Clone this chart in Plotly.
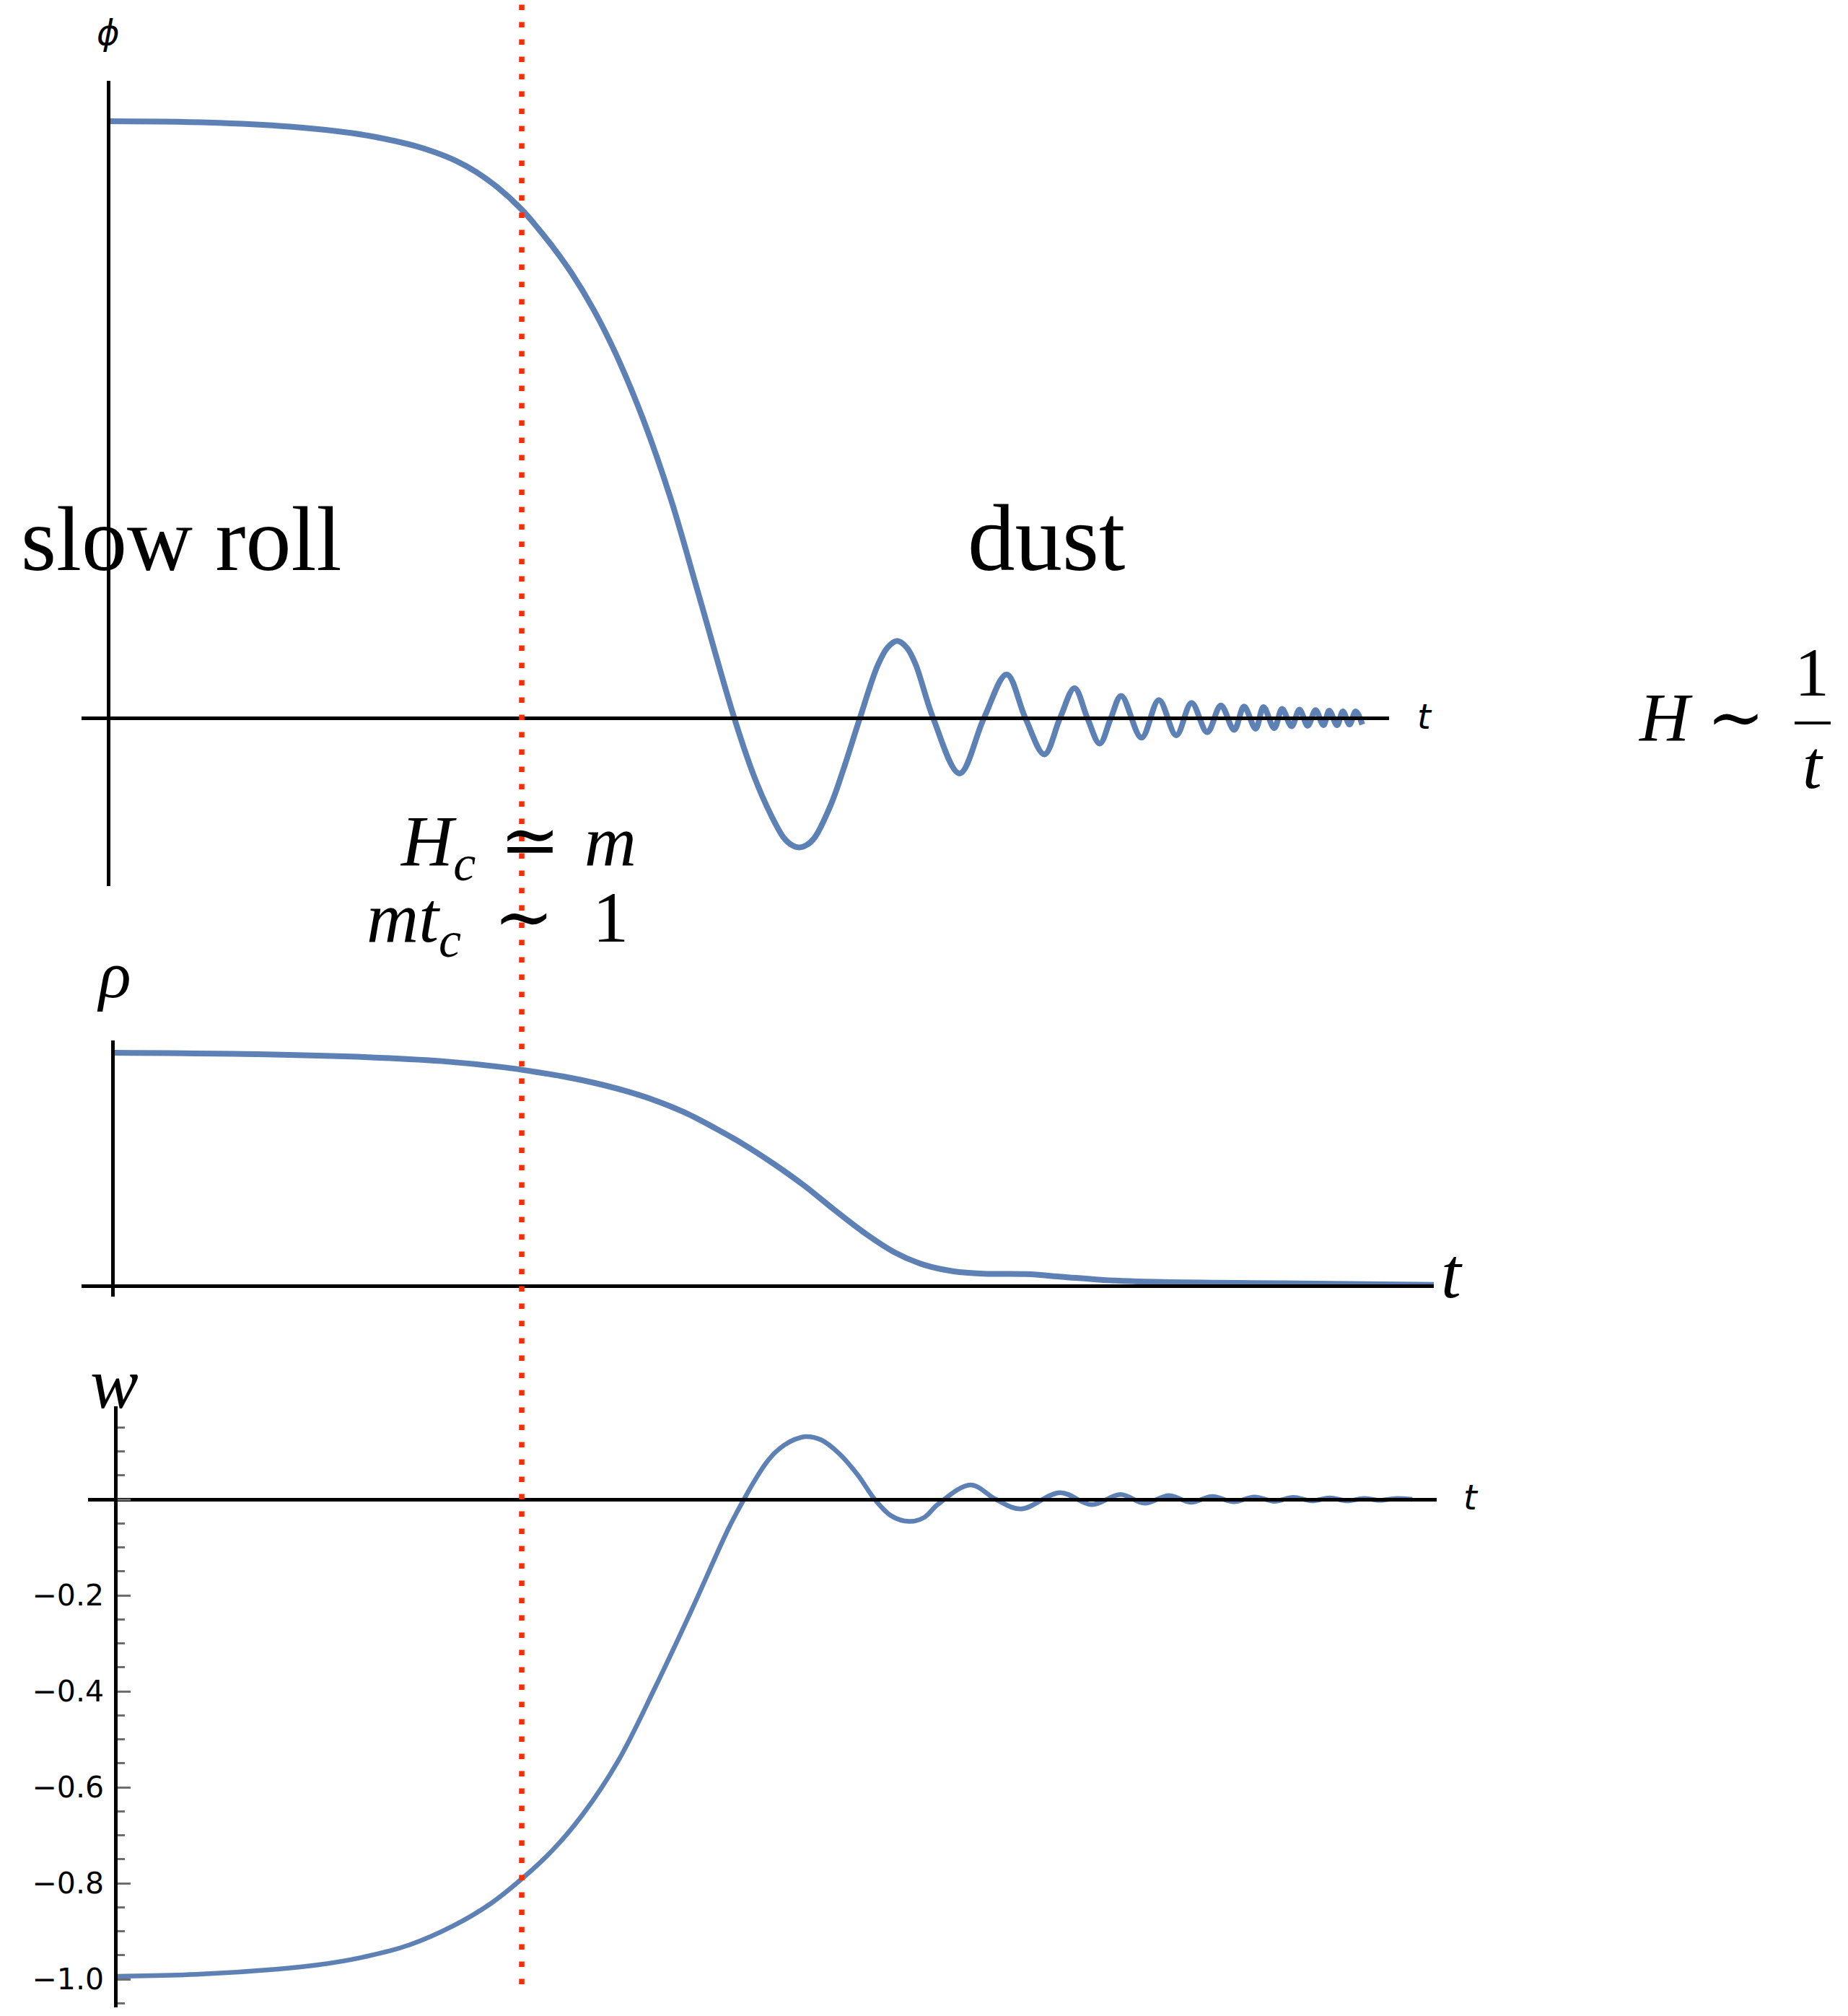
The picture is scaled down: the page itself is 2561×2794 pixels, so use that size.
import plotly.graph_objects as go

# ---------------------------------------------------------------------------
# Data: field, energy density and equation of state versus time (t_c = 1)
# ---------------------------------------------------------------------------
phi_t = [0.000, 0.239, 0.440, 0.590, 0.665, 0.740, 0.790, 0.840, 0.890, 0.940,
         1.000, 1.040, 1.080, 1.120, 1.174, 1.227, 1.294, 1.361, 1.427, 1.514,
         1.561, 1.601, 1.634, 1.653, 1.671, 1.689, 1.708, 1.748, 1.781, 1.818,
         1.861, 1.885, 1.908, 1.931, 1.952, 1.995, 2.059, 2.118, 2.173, 2.218,
         2.264, 2.302, 2.337, 2.368, 2.398, 2.425, 2.450, 2.499, 2.541, 2.583,
         2.620, 2.658, 2.691, 2.723, 2.747, 2.775, 2.794, 2.820, 2.839, 2.862,
         2.881, 2.901, 2.920, 2.939, 2.953, 2.972, 2.986, 3.002, 3.017, 3.033]
phi_v = [1.000, 0.998, 0.991, 0.980, 0.971, 0.959, 0.948, 0.934, 0.915, 0.890,
         0.852, 0.820, 0.785, 0.746, 0.684, 0.611, 0.500, 0.366, 0.209, 0.000,
         -0.096, -0.160, -0.201, -0.213, -0.217, -0.213, -0.201, -0.145, -0.080, 0.000,
         0.088, 0.118, 0.129, 0.118, 0.091, 0.000, -0.093, 0.000, 0.073, 0.000,
         -0.061, 0.000, 0.050, 0.000, -0.043, 0.000, 0.037, -0.033, 0.030, -0.029,
         0.025, -0.024, 0.021, -0.020, 0.019, -0.018, 0.018, -0.017, 0.015, -0.014,
         0.014, -0.013, 0.013, -0.012, 0.012, -0.012, 0.011, -0.011, 0.011, -0.011]

rho_t = [0.000, 0.354, 0.624, 0.804, 0.959, 1.033, 1.105, 1.179, 1.252, 1.325,
         1.398, 1.471, 1.544, 1.617, 1.691, 1.764, 1.837, 1.910, 1.983, 2.056,
         2.129, 2.232, 2.319, 2.422, 2.568, 2.861, 3.232]
rho_v = [1.000, 0.994, 0.981, 0.964, 0.937, 0.918, 0.897, 0.870, 0.837, 0.796,
         0.744, 0.678, 0.605, 0.522, 0.429, 0.326, 0.228, 0.145, 0.090, 0.062,
         0.052, 0.050, 0.039, 0.025, 0.016, 0.011, 0.004]

w_t = [0.000, 0.200, 0.400, 0.500, 0.604, 0.722, 0.831, 0.921, 1.000, 1.076,
       1.149, 1.238, 1.329, 1.419, 1.510, 1.547, 1.574, 1.600, 1.623, 1.646,
       1.672, 1.700, 1.737, 1.782, 1.827, 1.869, 1.909, 1.954, 1.990, 2.025,
       2.105, 2.167, 2.229, 2.325, 2.403, 2.474, 2.533, 2.593, 2.647, 2.700,
       2.753, 2.803, 2.853, 2.899, 2.945, 2.989, 3.032, 3.073, 3.112, 3.153,
       3.192]
w_v = [-0.994, -0.990, -0.979, -0.970, -0.955, -0.929, -0.889, -0.844, -0.791, -0.731,
       -0.658, -0.544, -0.391, -0.229, -0.059, 0.000, 0.040, 0.074, 0.097, 0.113,
       0.125, 0.131, 0.124, 0.095, 0.051, 0.000, -0.034, -0.046, -0.038, -0.010,
       0.030, 0.000, -0.020, 0.014, -0.011, 0.010, -0.008, 0.008, -0.006, 0.006,
       -0.005, 0.005, -0.004, 0.004, -0.003, 0.003, -0.003, 0.002, -0.002, 0.002,
       0.000]

t_c = 1.0  # m t_c ~ 1

w_tickvals = [-1.0, -0.8, -0.6, -0.4, -0.2, 0.0]
w_ticktext = ["\u22121.0", "\u22120.8", "\u22120.6", "\u22120.4", "\u22120.2", ""]

# ---------------------------------------------------------------------------
# Page geometry (pixels)
# ---------------------------------------------------------------------------
W, H = 2561, 2794

# each panel: axis extents, origin pixel and pixels per data unit
PANELS = {
    "phi": dict(left=113, right=1925, top=112, bottom=1228, ox=150, oy=995, sx=573, sy=827),
    "rho": dict(left=113, right=1987, top=1442, bottom=1797, ox=156, oy=1782, sx=567, sy=323),
    "w":   dict(left=122, right=1991, top=1949, bottom=2782, ox=160, oy=2078, sx=563, sy=665),
}

BLUE = "#5e81b5"
RED = "#ff2a00"
SERIF = "Liberation Serif, DejaVu Serif, serif"
SANS = "DejaVu Sans, sans-serif"


def px(x):
    return x / W


def py(y):
    return 1 - y / H


def axes_for(p):
    xa = dict(domain=[px(p["left"]), px(p["right"])],
              range=[(p["left"] - p["ox"]) / p["sx"], (p["right"] - p["ox"]) / p["sx"]],
              anchor="free", position=py(p["oy"]),
              showline=True, linecolor="black", linewidth=4.5, layer="above traces",
              showgrid=False, zeroline=False, showticklabels=False, ticks="",
              fixedrange=True)
    ya = dict(domain=[py(p["bottom"]), py(p["top"])],
              range=[(p["oy"] - p["bottom"]) / p["sy"], (p["oy"] - p["top"]) / p["sy"]],
              anchor="free", position=px(p["ox"]),
              showline=True, linecolor="black", linewidth=4.5, layer="above traces",
              showgrid=False, zeroline=False, showticklabels=False, ticks="",
              fixedrange=True)
    return xa, ya


fig = go.Figure()

fig.add_trace(go.Scatter(x=phi_t, y=phi_v, mode="lines", xaxis="x", yaxis="y",
                         line=dict(color=BLUE, width=8, shape="spline", smoothing=1.0),
                         hoverinfo="skip"))
fig.add_trace(go.Scatter(x=rho_t, y=rho_v, mode="lines", xaxis="x2", yaxis="y2",
                         line=dict(color=BLUE, width=8, shape="spline", smoothing=1.0),
                         hoverinfo="skip"))
fig.add_trace(go.Scatter(x=w_t, y=w_v, mode="lines", xaxis="x3", yaxis="y3",
                         line=dict(color=BLUE, width=6.5, shape="spline", smoothing=1.0),
                         hoverinfo="skip"))

x1, y1 = axes_for(PANELS["phi"])
x2, y2 = axes_for(PANELS["rho"])
x3, y3 = axes_for(PANELS["w"])

# w axis carries gray tick marks and numeric labels
y3.update(dict(tickmode="array", tickvals=w_tickvals, ticktext=w_ticktext,
               showticklabels=True, ticks="inside", ticklen=18, tickwidth=3,
               tickcolor="#6e6e6e", ticklabelstandoff=6,
               tickfont=dict(family=SANS, size=41, color="black"),
               minor=dict(dtick=0.05, tick0=0, ticks="inside", ticklen=10,
                          tickwidth=3, tickcolor="#6e6e6e")))

fig.update_layout(
    width=W, height=H,
    margin=dict(l=0, r=0, t=0, b=0),
    paper_bgcolor="white", plot_bgcolor="rgba(0,0,0,0)",
    showlegend=False,
    xaxis=x1, yaxis=y1, xaxis2=x2, yaxis2=y2, xaxis3=x3, yaxis3=y3,
)

# dotted marker at t = t_c running through all panels
fig.add_shape(type="line", xref="x", yref="paper", x0=t_c, x1=t_c,
              y0=py(6.5), y1=py(2751), layer="above",
              line=dict(color=RED, width=7.5, dash="7.5px,16.5px"))

# fraction bar of H ~ 1/t
fig.add_shape(type="line", xref="paper", yref="paper",
              x0=px(2487), x1=px(2537), y0=py(1002), y1=py(1002),
              line=dict(color="black", width=4))


def label(text, x, top, xanchor, family, size):
    fig.add_annotation(text=text, x=px(x), y=py(top), xref="paper", yref="paper",
                       xanchor=xanchor, yanchor="top", showarrow=False,
                       font=dict(family=family, size=size, color="black"))


# region names
label("slow roll", 27, 676, "left", SERIF, 126)
label("dust", 1450, 671, "center", SERIF, 131)

# axis names
label("<i>\u03d5</i>", 150, 15, "center", SANS, 48)
label("<i>t</i>", 1975, 963, "center", SANS, 48)
label("<i>\u03c1</i>", 158, 1297, "center", SERIF, 93)
label("<i>t</i>", 2012, 1707, "center", SERIF, 100)
label("<i>w</i>", 158, 1860, "center", SERIF, 100)
label("<i>t</i>", 2038, 2045, "center", SANS, 48)

# transition conditions
label("<i>H</i><sub><i>c</i></sub> \u200a\u2243 \u200a<i>m</i>", 884, 1108, "right", SERIF, 100)
label("<i>mt</i><sub><i>c</i></sub> \u2009\u223c \u2009\u200a1", 873, 1214, "right", SERIF, 100)

# late-time Hubble rate
label("<i>H</i> \u223c", 2268, 939, "left", SERIF, 96)
label("1", 2511, 876, "center", SERIF, 96)
label("<i>t</i>", 2512, 1004, "center", SERIF, 96)

fig.write_html("out.html")
